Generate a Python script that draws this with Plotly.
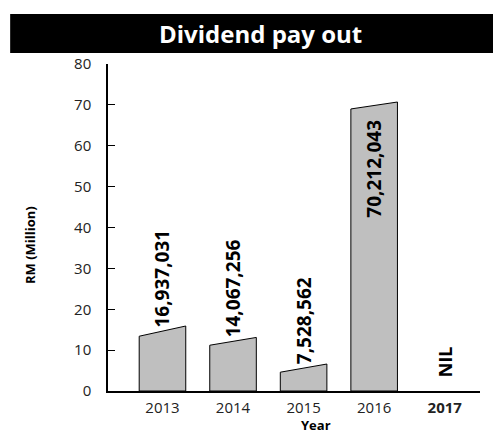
import plotly.graph_objects as go

# ---- data ----
years = ["2013", "2014", "2015", "2016", "2017"]
dividend_rm = [16937031, 14067256, 7528562, 70212043, None]   # None -> NIL
# slanted bar tops as drawn (RM million): left edge / right edge
bar_top_left = [13.4, 11.2, 4.6, 69.0]
bar_top_right = [15.9, 13.1, 6.6, 70.7]
label_inside = [False, False, False, True]
y_ticks = [0, 10, 20, 30, 40, 50, 60, 70, 80]

FONT = "Open Sans"
half_w = 0.33

fig = go.Figure()
for i, (yl, yr) in enumerate(zip(bar_top_left, bar_top_right)):
    fig.add_trace(go.Scatter(
        x=[i - half_w, i - half_w, i + half_w, i + half_w, i - half_w],
        y=[0, yl, yr, 0, 0],
        mode="lines", fill="toself",
        fillcolor="#bfbfbf", line=dict(color="#000000", width=1),
        hoverinfo="skip", showlegend=False))

annotations = []
for i, v in enumerate(dividend_rm):
    if v is None:
        annotations.append(dict(x=i, y=0, xref="x", yref="y", text="<b>NIL</b>",
                                textangle=-90, showarrow=False, yanchor="bottom",
                                yshift=12, font=dict(family=FONT, size=18, color="#000")))
        continue
    mid = (bar_top_left[i] + bar_top_right[i]) / 2
    if label_inside[i]:
        annotations.append(dict(x=i, y=mid, xref="x", yref="y", text=f"<b>{v:,}</b>",
                                textangle=-90, showarrow=False, yanchor="top",
                                yshift=-12, font=dict(family=FONT, size=19, color="#000")))
    else:
        annotations.append(dict(x=i, y=mid, xref="x", yref="y", text=f"<b>{v:,}</b>",
                                textangle=-90, showarrow=False, yanchor="bottom",
                                yshift=2, font=dict(family=FONT, size=19, color="#000")))

# title band text
annotations.append(dict(x=0.411, y=1.093, xref="paper", yref="paper",
                        text="<b>Dividend pay out</b>", showarrow=False,
                        xanchor="center", yanchor="middle",
                        font=dict(family=FONT, size=24, color="#ffffff")))
# axis titles
annotations.append(dict(x=-0.21, y=0.446, xref="paper", yref="paper",
                        text="<b>RM (Million)</b>", textangle=-90, showarrow=False,
                        xanchor="center", yanchor="middle",
                        font=dict(family=FONT, size=13, color="#000")))
annotations.append(dict(x=0.56, y=-0.104, xref="paper", yref="paper",
                        text="<b>Year</b>", showarrow=False,
                        xanchor="center", yanchor="middle",
                        font=dict(family=FONT, size=13, color="#000")))

tick_text = [y if y != "2017" else "<b>2017</b>" for y in years]

fig.update_layout(
    width=493, height=432,
    margin=dict(l=100, r=21, t=56, b=49),
    paper_bgcolor="white", plot_bgcolor="white",
    font=dict(family=FONT, color="#333"),
    showlegend=False,
    annotations=annotations,
    shapes=[dict(type="rect", xref="paper", yref="paper",
                 x0=-0.263, x1=1.08, y0=1.034, y1=1.153,
                 fillcolor="#000000", line=dict(width=0), layer="below")],
    xaxis=dict(range=[-0.772, 4.50], tickmode="array",
               tickvals=list(range(len(years))), ticktext=tick_text,
               showgrid=False, zeroline=False, showline=True,
               linecolor="#000", linewidth=1.5, ticks="",
               ticklabelstandoff=2,
               tickfont=dict(family=FONT, size=15, color="#222")),
    yaxis=dict(range=[0, 80], tickmode="array", tickvals=y_ticks,
               showgrid=False, zeroline=False, showline=True,
               linecolor="#000", linewidth=1.5, ticks="inside", ticklen=7,
               tickcolor="#000", tickwidth=1.2, ticklabelstandoff=12,
               tickfont=dict(family=FONT, size=15, color="#222")),
)

fig.write_html("out.html")
